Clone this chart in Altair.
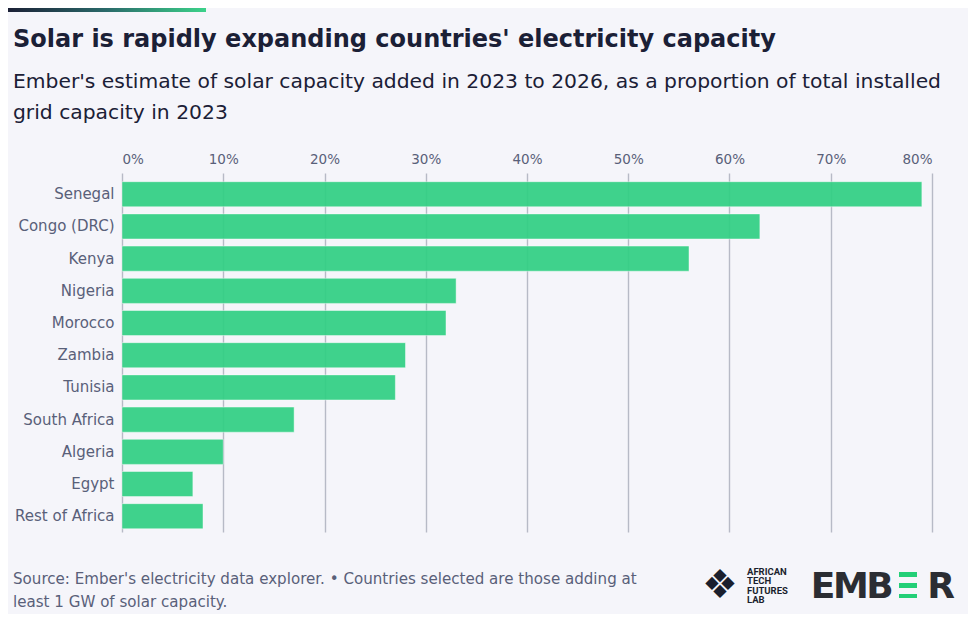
import altair as alt
import pandas as pd

countries = ["Senegal", "Congo (DRC)", "Kenya", "Nigeria", "Morocco", "Zambia",
             "Tunisia", "South Africa", "Algeria", "Egypt", "Rest of Africa"]
shares = [0.79, 0.63, 0.56, 0.33, 0.32, 0.28, 0.27, 0.17, 0.10, 0.07, 0.08]
tick_values = [0, 0.1, 0.2, 0.3, 0.4, 0.5, 0.6, 0.7, 0.8]

title_text = "Solar is rapidly expanding countries' electricity capacity"
subtitle_lines = ["Ember's estimate of solar capacity added in 2023 to 2026, as a proportion of total installed",
                  "grid capacity in 2023"]
source_lines = ["Source: Ember's electricity data explorer. \u2022 Countries selected are those adding at",
                "least 1 GW of solar capacity."]
atfl_lines = ["AFRICAN", "TECH", "FUTURES", "LAB"]

FONT = "DejaVu Sans"
BG = "#f5f5fa"
DARK = "#1b2036"
GREY = "#596079"

df = pd.DataFrame({"country": countries, "share": shares})
one = pd.DataFrame({"k": [0]})

W, H = 810, 359

bars = alt.Chart(df).mark_bar(
    color="#30d083", opacity=0.92, stroke="#ffffff", strokeOpacity=0.45, strokeWidth=1
).encode(
    x=alt.X("share:Q",
            scale=alt.Scale(domain=[0, 0.8], nice=False),
            axis=alt.Axis(orient="top", format=".0%", values=tick_values, title=None,
                          domain=False, ticks=False, labelPadding=7,
                          labelFont=FONT, labelFontSize=13.5, labelColor=GREY,
                          grid=True, gridColor="#b7bac6", gridWidth=1.4)),
    y=alt.Y("country:N", sort=countries,
            scale=alt.Scale(paddingInner=0.22, paddingOuter=0.185, align=0.73),
            axis=alt.Axis(title=None, domain=False, ticks=False, labelPadding=8,
                          labelFont=FONT, labelFontSize=15, labelColor=GREY,
                          labelLimit=200)),
)


def txt(text, x, y, size, color, weight="normal", align="left", font=FONT,
        baseline="alphabetic", line_height=None):
    kw = {}
    if line_height is not None:
        kw["lineHeight"] = line_height
    return alt.Chart(one).mark_text(
        text=text, align=align, baseline=baseline, font=font, fontSize=size,
        fontWeight=weight, color=color, **kw
    ).encode(x=alt.value(x), y=alt.value(y))


def rect(x, x2, y, y2, color):
    return alt.Chart(one).mark_rect(color=color).encode(
        x=alt.value(x), x2=alt.value(x2), y=alt.value(y), y2=alt.value(y2))


# page coordinates -> plot coordinates (plot origin at page 122, 173)
def px(v):
    return v - 122


def py(v):
    return v - 173


layers = [bars]

# top gradient accent line
layers.append(
    alt.Chart(one).mark_rect(
        color=alt.Gradient(gradient="linear",
                           stops=[alt.GradientStop(color="#1b2036", offset=0),
                                  alt.GradientStop(color="#2a6a6a", offset=0.5),
                                  alt.GradientStop(color="#3cd28a", offset=1)],
                           x1=0, x2=1, y1=0, y2=0)
    ).encode(x=alt.value(px(8)), x2=alt.value(px(206)), y=alt.value(py(8)), y2=alt.value(py(12)))
)

layers.append(txt(title_text, px(13), py(47), 24, DARK, weight="bold"))
layers.append(txt(subtitle_lines[0], px(13), py(88), 20.3, DARK))
layers.append(txt(subtitle_lines[1], px(13), py(119), 20.3, DARK))
layers.append(txt(source_lines[0], px(13), py(584), 15.1, GREY))
layers.append(txt(source_lines[1], px(13), py(607), 15.1, GREY))

# African Tech Futures Lab logo
layers.append(txt("\u2756", px(720), py(586), 40, "#1b1f2e", align="center",
                  font="DejaVu Sans", baseline="middle"))
layers.append(txt(atfl_lines, px(747), py(575), 9.5, "#1b1f2e", weight="bold",
                  font="Roboto", line_height=9.4))

# EMBER logo
EMB = "#2b2d33"
for letter, cx in zip(["E", "M", "B", "R"], [823, 851, 880, 941]):
    layers.append(txt(letter, px(cx), py(598), 36, EMB, weight="bold", align="center",
                      font="DejaVu Sans"))
for top, bot in [(572, 577), (583, 588), (594, 598)]:
    layers.append(rect(px(899), px(917), py(top), py(bot), "#23cf77"))

chart = alt.layer(*layers).properties(
    width=W, height=H,
    autosize=alt.AutoSizeParams(type="none"),
    padding={"left": 114, "top": 165, "right": 36, "bottom": 82},
    background=BG,
).configure_view(stroke=None)

chart.save("out.html", embed_options={"renderer": "svg", "actions": False})
